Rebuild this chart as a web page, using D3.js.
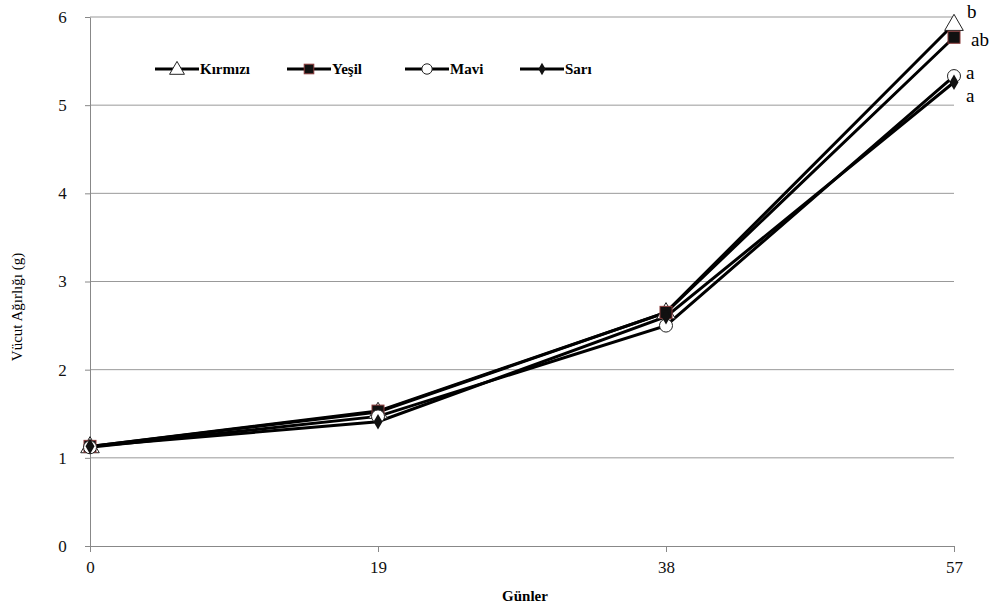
<!DOCTYPE html>
<html>
<head>
<meta charset="utf-8">
<script src="https://cdn.jsdelivr.net/npm/d3@7"></script>
<style>
  body { margin: 0; background: #fff; }
  svg text { font-family: "Liberation Serif", "DejaVu Serif", serif; }
</style>
</head>
<body>
<svg id="chart" width="998" height="612"></svg>
<script>
const days = [0, 19, 38, 57];
const kirmizi = [1.13, 1.52, 2.65, 5.92];
const yesil = [1.13, 1.53, 2.65, 5.77];
const mavi = [1.12, 1.47, 2.50, 5.33];
const sari = [1.13, 1.41, 2.60, 5.26];
const yTicks = [0, 1, 2, 3, 4, 5, 6];
const seriesNames = ["Kırmızı", "Yeşil", "Mavi", "Sarı"];
const letters = ["b", "ab", "a", "a"];

const svg = d3.select("#chart");
const margin = { left: 90, right: 44, top: 17, bottom: 66 };
const width = 998, height = 612;

const x = d3.scaleLinear().domain([0, 57]).range([margin.left, width - margin.right]);
const y = d3.scaleLinear().domain([0, 6]).range([height - margin.bottom, margin.top]);

// gridlines
svg.append("g").selectAll("line").data(yTicks.filter(d => d > 0)).enter().append("line")
    .attr("x1", x(0)).attr("x2", x(57)).attr("y1", d => y(d)).attr("y2", d => y(d))
    .attr("stroke", "#999").attr("stroke-width", 1);

// axes
const xAxis = d3.axisBottom(x).tickValues(days).tickFormat(d3.format("d")).tickSize(6).tickSizeOuter(0);
const gx = svg.append("g").attr("transform", `translate(0,${y(0)})`).call(xAxis);
gx.select(".domain").attr("stroke", "#888");
gx.selectAll(".tick line").attr("stroke", "#888");
gx.selectAll("text").attr("font-size", 17).attr("fill", "#111").attr("dy", "1.05em");

const yAxis = d3.axisLeft(y).tickValues(yTicks).tickFormat(d3.format("d")).tickSize(5).tickSizeOuter(0);
const gy = svg.append("g").attr("transform", `translate(${x(0)},0)`).call(yAxis);
gy.select(".domain").attr("stroke", "#888");
gy.selectAll(".tick line").attr("stroke", "#888");
gy.selectAll("text").attr("font-size", 17).attr("fill", "#111").attr("dx", "-0.9em");

// axis titles
svg.append("text").attr("x", x(28.5) + 3).attr("y", 601).attr("text-anchor", "middle")
    .attr("font-size", 15).attr("font-weight", "bold").text("Günler");
svg.append("text").attr("transform", `translate(22,307) rotate(-90)`).attr("text-anchor", "middle")
    .attr("font-size", 15).text("Vücut Ağırlığı  (g)");

const allSeries = [kirmizi, yesil, mavi, sari];
const line = d3.line().x((d, i) => x(days[i])).y(d => y(d));

// marker drawing
function marker(g, idx, cx, cy, k) {
    if (idx === 0) {
        g.append("path").attr("d", d3.symbol(d3.symbolTriangle, 150 * k * k)())
            .attr("transform", `translate(${cx},${cy + 1})`).attr("fill", "#fff").attr("stroke", "#222").attr("stroke-width", 1);
    } else if (idx === 1) {
        g.append("rect").attr("x", cx - 6 * k).attr("y", cy - 6 * k).attr("width", 12 * k).attr("height", 12 * k)
            .attr("fill", "#111").attr("stroke", "#8a3a3a").attr("stroke-width", 1);
    } else if (idx === 2) {
        g.append("circle").attr("cx", cx).attr("cy", cy).attr("r", 6.5 * k)
            .attr("fill", "#fff").attr("stroke", "#222").attr("stroke-width", 1);
    } else {
        g.append("path").attr("d", d3.symbol(d3.symbolDiamond, 70 * k * k)())
            .attr("transform", `translate(${cx},${cy})`).attr("fill", "#111");
    }
}

allSeries.forEach((s, i) => {
    svg.append("path").datum(s).attr("d", line).attr("fill", "none")
        .attr("stroke", "#000").attr("stroke-width", 3);
});
allSeries.forEach((s, i) => {
    const g = svg.append("g");
    s.forEach((v, j) => marker(g, i, x(days[j]), y(v), 1));
});

// significance letters
const letterX = [967, 971, 966, 966];
const letterY = [18, 46, 79, 102];
letters.forEach((l, i) => {
    svg.append("text").attr("x", letterX[i]).attr("y", letterY[i]).attr("font-size", 19).text(l);
});

// legend
const legendX = [155, 287, 405, 520];
seriesNames.forEach((n, i) => {
    const g = svg.append("g").attr("transform", `translate(${legendX[i]},69)`);
    g.append("line").attr("x1", 0).attr("x2", 44).attr("y1", 0).attr("y2", 0).attr("stroke", "#000").attr("stroke-width", 3);
    marker(g, i, 22, 0, 0.8);
    g.append("text").attr("x", 45).attr("y", 5).attr("font-size", 15).attr("font-weight", "bold").text(n);
});
</script>
</body>
</html>
